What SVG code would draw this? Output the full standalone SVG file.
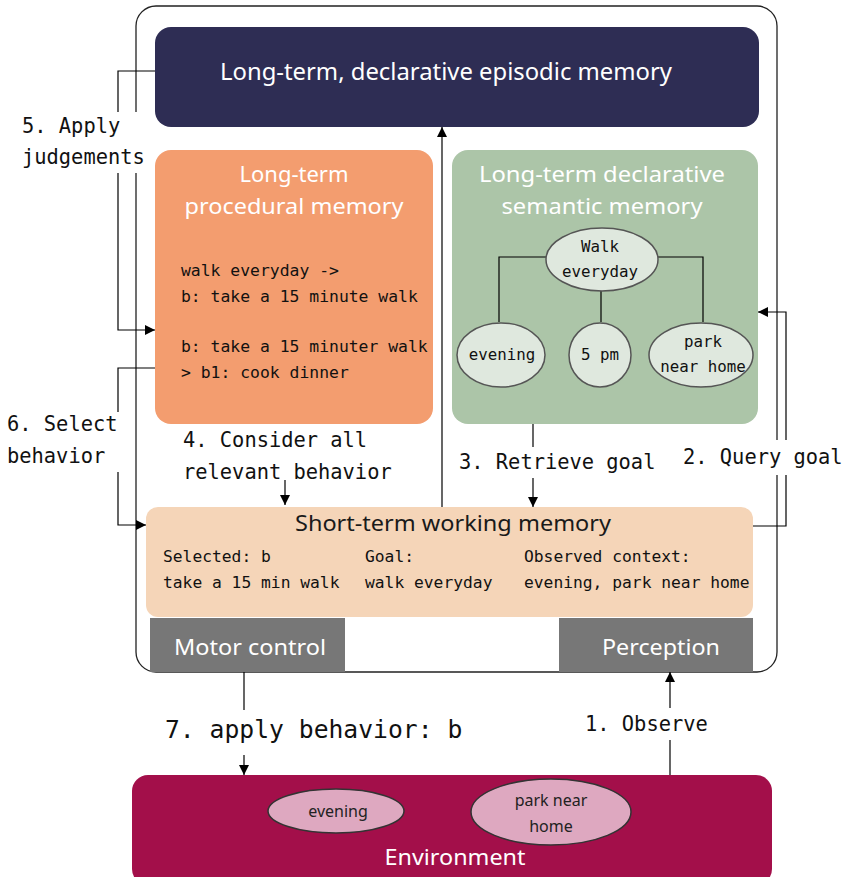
<svg xmlns="http://www.w3.org/2000/svg" width="844" height="877" viewBox="0 0 844 877">
<defs>
<marker id="arr" viewBox="0 0 10 10" refX="10" refY="5" markerWidth="10" markerHeight="10" markerUnits="userSpaceOnUse" orient="auto"><path d="M0,0 L10,5 L0,10 z" fill="#000"/></marker>
<style>
.title{font-family:"Noto Sans","Open Sans",sans-serif;fill:#fff;text-anchor:middle}
.mono{font-family:"DejaVu Sans Mono","Liberation Mono",monospace;fill:#111}
.lbl{font-family:"DejaVu Sans Mono","Liberation Mono",monospace;fill:#111;font-size:20.4px}
.ell{fill:#dfe8de;stroke:#555;stroke-width:1.5}
.envell{fill:#dea8c0;stroke:#333;stroke-width:1.5}
.conn{fill:none;stroke:#000;stroke-width:1.2}
.gap{fill:#fff}
</style>
</defs>
<rect width="844" height="877" fill="#fff"/>
<rect id="outer" x="136" y="6" width="641" height="666" rx="20" fill="none" stroke="#222" stroke-width="1.3"/>

<g id="connectors">
<path class="conn" d="M155,71 H118 V330 H155" marker-end="url(#arr)"/>
<path class="conn" d="M155,368 H118 V525 H146" marker-end="url(#arr)"/>
<path class="conn" d="M442,507 V127" marker-end="url(#arr)"/>
<path class="conn" d="M533,424 V507" marker-end="url(#arr)"/>
<path class="conn" d="M285,480 V505" marker-end="url(#arr)"/>
<path class="conn" d="M750,526 H786 V312 H758" marker-end="url(#arr)"/>
<path class="conn" d="M244,672 V775" marker-end="url(#arr)"/>
<path class="conn" d="M670,775 V672" marker-end="url(#arr)"/>
</g>

<g id="labels">
<rect class="gap" x="18" y="112" width="130" height="61"/>
<text class="lbl" x="22" y="133">5. Apply</text>
<text class="lbl" x="22" y="164">judgements</text>
<rect class="gap" x="4" y="412" width="118" height="60"/>
<text class="lbl" x="7" y="431">6. Select</text>
<text class="lbl" x="7" y="463">behavior</text>
<text class="lbl" x="183" y="447">4. Consider all</text>
<text class="lbl" x="183" y="479">relevant behavior</text>
<rect class="gap" x="455" y="447" width="204" height="31"/>
<text class="lbl" x="459" y="469">3. Retrieve goal</text>
<rect class="gap" x="680" y="440" width="164" height="35"/>
<text class="lbl" x="683" y="464">2. Query goal</text>
<rect class="gap" x="580" y="708" width="130" height="32"/>
<text class="lbl" x="585" y="731">1. Observe</text>
<rect class="gap" x="160" y="710" width="308" height="45"/>
<text class="mono" x="165" y="738" font-size="24.7">7. apply behavior: b</text>
</g>

<g id="episodic">
<rect x="155" y="27" width="604" height="100" rx="16" fill="#2e2d54"/>
<text class="title" x="446" y="80" font-size="23" textLength="452" lengthAdjust="spacingAndGlyphs">Long-term, declarative episodic memory</text>
</g>

<g id="procedural">
<rect x="155" y="150" width="278" height="274" rx="16" fill="#f39d6f"/>
<text class="title" x="294" y="182" font-size="22">Long-term</text>
<text class="title" x="294" y="214" font-size="22" textLength="219" lengthAdjust="spacingAndGlyphs">procedural memory</text>
<text class="mono" x="181" y="276" font-size="16.4">walk everyday -&gt;</text>
<text class="mono" x="181" y="302" font-size="16.4">b: take a 15 minute walk</text>
<text class="mono" x="181" y="352" font-size="16.4">b: take a 15 minuter walk</text>
<text class="mono" x="181" y="378" font-size="16.4">&gt; b1: cook dinner</text>
</g>

<g id="semantic">
<rect x="452" y="150" width="306" height="274" rx="16" fill="#acc5a8"/>
<text class="title" x="602" y="182" font-size="22" fill="#f0f4ee" textLength="246" lengthAdjust="spacingAndGlyphs">Long-term declarative</text>
<text class="title" x="602" y="214" font-size="22" textLength="201" lengthAdjust="spacingAndGlyphs">semantic memory</text>
</g>

<g id="tree-links">
<path class="conn" d="M499,322 V257 H546 M658,257 H703 V322 M601,291 V322"/>
</g>

<g id="walk-everyday">
<ellipse class="ell" cx="602" cy="259.5" rx="56" ry="31.5"/>
<text class="mono" x="600" y="252" font-size="15.8" text-anchor="middle">Walk</text>
<text class="mono" x="600" y="277" font-size="15.8" text-anchor="middle">everyday</text>
</g>
<g id="sem-evening">
<ellipse class="ell" cx="501" cy="355" rx="44" ry="32"/>
<text class="mono" x="502" y="360" font-size="15.8" text-anchor="middle">evening</text>
</g>
<g id="sem-5pm">
<ellipse class="ell" cx="600" cy="355" rx="31" ry="32"/>
<text class="mono" x="600" y="360" font-size="15.8" text-anchor="middle">5 pm</text>
</g>
<g id="sem-park">
<ellipse class="ell" cx="701" cy="355" rx="52" ry="32"/>
<text class="mono" x="703" y="347" font-size="15.8" text-anchor="middle">park</text>
<text class="mono" x="703" y="372" font-size="15.8" text-anchor="middle">near home</text>
</g>

<g id="working">
<rect x="146" y="507" width="607" height="110" rx="12" fill="#f5d5b8"/>
<text class="title" x="453" y="531" font-size="22" style="fill:#1a1a1a" textLength="316" lengthAdjust="spacingAndGlyphs">Short-term working memory</text>
<text class="mono" x="163" y="562" font-size="16.3">Selected: b</text>
<text class="mono" x="163" y="588" font-size="16.3">take a 15 min walk</text>
<text class="mono" x="365" y="562" font-size="16.3">Goal:</text>
<text class="mono" x="365" y="588" font-size="16.3">walk everyday</text>
<text class="mono" x="524" y="562" font-size="16.3">Observed context:</text>
<text class="mono" x="524" y="588" font-size="16.3">evening, park near home</text>
</g>

<g id="motor">
<rect x="150" y="618" width="195" height="54" fill="#777"/>
<text class="title" x="250" y="655" font-size="22" textLength="152" lengthAdjust="spacingAndGlyphs">Motor control</text>
</g>
<g id="perception">
<rect x="559" y="618" width="194" height="54" fill="#777"/>
<text class="title" x="661" y="655" font-size="22" textLength="118" lengthAdjust="spacingAndGlyphs">Perception</text>
</g>

<g id="environment">
<rect x="132" y="775" width="640" height="110" rx="16" fill="#a30f4a"/>
<text class="title" x="455" y="865" font-size="22" textLength="141" lengthAdjust="spacingAndGlyphs">Environment</text>
</g>
<g id="env-evening">
<ellipse class="envell" cx="336" cy="811" rx="68" ry="22"/>
<text x="338" y="817" font-family="Noto Sans, sans-serif" font-size="16" fill="#222" text-anchor="middle">evening</text>
</g>
<g id="env-park">
<ellipse class="envell" cx="551" cy="812" rx="80" ry="33"/>
<text x="551" y="806" font-family="Noto Sans, sans-serif" font-size="16" fill="#222" text-anchor="middle">park near</text>
<text x="551" y="832" font-family="Noto Sans, sans-serif" font-size="16" fill="#222" text-anchor="middle">home</text>
</g>
</svg>
